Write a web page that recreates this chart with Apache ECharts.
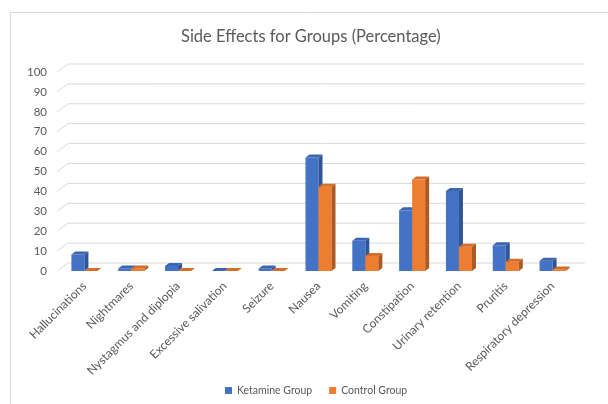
<!DOCTYPE html>
<html>
<head>
<meta charset="utf-8">
<script src="https://cdn.jsdelivr.net/npm/echarts@6/dist/echarts.min.js"></script>
<style>
  html, body { margin: 0; padding: 0; background: #fff; }
  #chart { width: 608px; height: 404px; }
</style>
</head>
<body>
<div id="chart"></div>
<script>
const categories = ['Hallucinations', 'Nightmares', 'Nystagmus and diplopia', 'Excessive salivation', 'Seizure', 'Nausea', 'Vomiting', 'Constipation', 'Urinary retention', 'Pruritis', 'Respiratory depression']
const ketamine = [8.3, 1.3, 2.5, 0, 1.3, 57, 15.2, 30.5, 40.2, 12.9, 5.2]
const control = [0, 1.3, 0, 0, 0, 42.3, 7.6, 46, 12.2, 4.7, 0.8]
const yTicks = [0, 10, 20, 30, 40, 50, 60, 70, 80, 90, 100]

const textColor = '#595959'
const fontFamily = 'Lato, "Liberation Sans", sans-serif'

// 3D-ish column: front rect, top and side faces
const makeBar = (side, colors) => (params, api) => {
  const idx = api.value(0)
  const base = api.coord([idx, 0])
  const top = api.coord([idx, api.value(1)])
  const bw = api.size([1, 0])[0] * 0.278
  const x0 = side === 0 ? base[0] - bw : base[0]
  const x1 = x0 + bw
  const yb = base[1]
  const yt = top[1]
  const dx = 4, dy = 3
  return {
    type: 'group',
    children: [
      { type: 'polygon', shape: { points: [[x0, yb], [x1, yb], [x1, yt], [x0, yt]] }, style: { fill: colors[0] } },
      { type: 'polygon', shape: { points: [[x0, yt], [x1, yt], [x1 + dx, yt - dy], [x0 + dx, yt - dy]] }, style: { fill: colors[1] } },
      { type: 'polygon', shape: { points: [[x1, yb], [x1 + dx, yb - dy], [x1 + dx, yt - dy], [x1, yt]] }, style: { fill: colors[2] } }
    ]
  }
}

const wallLines = (params, api) => {
  const cs = params.coordSys
  const y = api.coord([0, api.value(0)])[1]
  return {
    type: 'polyline',
    shape: { points: [[cs.x - 4, y], [cs.x + 7, y - 8], [cs.x + cs.width + 9, y - 8]] },
    style: { stroke: '#d9d9d9', lineWidth: 1, fill: null }
  }
}

const chart = echarts.init(document.getElementById('chart'))

chart.setOption({
  animation: false,
  title: {
    text: 'Side Effects for Groups (Percentage)',
    left: 176,
    top: 23,
    textStyle: { color: textColor, fontSize: 16.5, fontWeight: 'normal', fontFamily }
  },
  graphic: [{
    type: 'rect',
    shape: { x: 10.5, y: 12.5, width: 640, height: 440 },
    style: { fill: null, stroke: '#d9d9d9', lineWidth: 1 },
    silent: true
  }],
  legend: {
    data: ['Ketamine Group', 'Control Group'],
    bottom: 3,
    left: 220,
    icon: 'rect',
    itemWidth: 7,
    itemHeight: 7,
    itemGap: 17,
    textStyle: { color: textColor, fontSize: 10.5, fontFamily }
  },
  grid: { left: 61, right: 32, top: 72, bottom: 133 },
  xAxis: {
    type: 'category',
    data: categories,
    axisLine: { show: false },
    axisTick: { show: false },
    axisLabel: { rotate: 45, interval: 0, color: textColor, fontSize: 12, fontFamily, margin: 13 }
  },
  yAxis: {
    type: 'value',
    min: 0,
    max: 100,
    interval: 10,
    axisLine: { show: false },
    axisTick: { show: false },
    splitLine: { show: false },
    axisLabel: { color: textColor, fontSize: 11.5, fontFamily, margin: 14 }
  },
  series: [
    {
      name: 'grid',
      type: 'custom',
      silent: true,
      z: 1,
      renderItem: wallLines,
      data: yTicks.map(v => [v]),
      encode: { y: 0 }
    },
    {
      name: 'Ketamine Group',
      type: 'custom',
      z: 3,
      itemStyle: { color: '#4472c4' },
      renderItem: makeBar(0, ['#4472c4', '#3c65b0', '#2f5597']),
      data: ketamine.map((v, i) => [i, v]),
      encode: { x: 0, y: 1 }
    },
    {
      name: 'Control Group',
      type: 'custom',
      z: 3,
      itemStyle: { color: '#ed7d31' },
      renderItem: makeBar(1, ['#ed7d31', '#d46f2b', '#ad5a22']),
      data: control.map((v, i) => [i, v]),
      encode: { x: 0, y: 1 }
    }
  ]
})

window.addEventListener('resize', () => chart.resize())
</script>
</body>
</html>
